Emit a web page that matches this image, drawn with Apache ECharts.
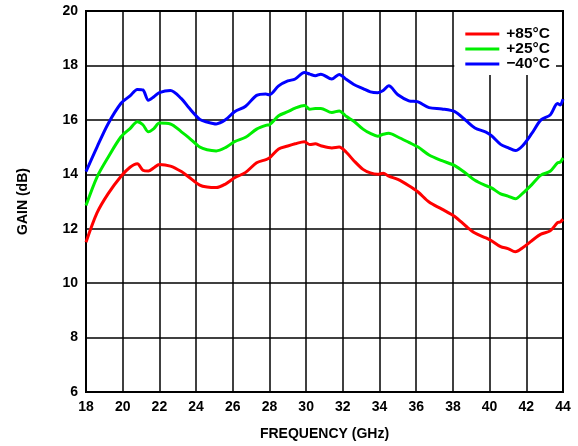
<!DOCTYPE html>
<html>
<head>
<meta charset="utf-8">
<script src="https://cdn.jsdelivr.net/npm/echarts@6/dist/echarts.min.js"></script>
<style>
  html, body { margin: 0; padding: 0; background: #fff; }
  #chart { width: 578px; height: 446px; }
</style>
</head>
<body>
<div id="chart"></div>
<script>
// Frequency sweep (GHz) shared by the three temperature traces
const freqGHz = [18.0, 18.6, 19.2, 19.9, 20.4, 20.8, 21.1, 21.4, 21.7, 22.0, 22.6, 23.2, 23.6, 24.2, 24.6, 25.1,
  25.6, 26.1, 26.7, 27.3, 27.8, 28.0, 28.5, 29.0, 29.4, 29.9, 30.2, 30.5, 30.8, 31.4, 31.8, 32.2, 32.6,
  33.1, 33.5, 33.9, 34.2, 34.5, 35.0, 35.6, 36.1, 36.7, 37.4, 38.1, 38.7, 39.2, 39.8, 40.1, 40.6, 41.0,
  41.4, 41.8, 42.3, 42.8, 43.3, 43.7, 43.85, 44.0];

// Gain (dB) at +85 °C
const gainHot = [11.5, 12.58, 13.28, 13.92, 14.26, 14.39, 14.15, 14.12, 14.24, 14.36, 14.3, 14.1, 13.9, 13.6, 13.53, 13.51,
  13.64, 13.87, 14.07, 14.42, 14.54, 14.6, 14.93, 15.04, 15.12, 15.2, 15.09, 15.12, 15.05, 14.97, 15.0, 14.8, 14.5,
  14.18, 14.05, 14.0, 14.04, 13.93, 13.81, 13.58, 13.35, 12.98, 12.72, 12.45, 12.1, 11.84, 11.66, 11.56, 11.34, 11.27,
  11.15, 11.3, 11.56, 11.8, 11.92, 12.22, 12.25, 12.35];

// Gain (dB) at +25 °C
const gainRoom = [12.85, 13.9, 14.62, 15.37, 15.68, 15.93, 15.82, 15.56, 15.68, 15.88, 15.85, 15.56, 15.35, 15.0, 14.9, 14.86,
  14.98, 15.2, 15.36, 15.66, 15.8, 15.82, 16.15, 16.3, 16.43, 16.53, 16.39, 16.42, 16.42, 16.27, 16.33, 16.12, 15.95,
  15.66, 15.5, 15.4, 15.47, 15.51, 15.37, 15.17, 15.0, 14.71, 14.5, 14.32, 14.04, 13.78, 13.58, 13.5, 13.28, 13.2,
  13.1, 13.3, 13.62, 13.97, 14.11, 14.42, 14.45, 14.6];

// Gain (dB) at −40 °C
const gainCold = [14.1, 15.0, 15.85, 16.6, 16.88, 17.12, 17.1, 16.72, 16.85, 17.0, 17.08, 16.78, 16.45, 16.02, 15.92, 15.85,
  16.0, 16.3, 16.5, 16.9, 16.95, 16.92, 17.25, 17.43, 17.5, 17.74, 17.68, 17.62, 17.68, 17.5, 17.67, 17.48, 17.3,
  17.15, 17.03, 17.0, 17.08, 17.25, 16.92, 16.7, 16.66, 16.45, 16.4, 16.3, 15.98, 15.7, 15.55, 15.42, 15.1, 14.98,
  14.87, 15.05, 15.5, 16.0, 16.18, 16.6, 16.55, 16.76];

const seriesNames = ['+85°C', '+25°C', '\u221240°C'];
const seriesColors = ['#ff0000', '#00ee00', '#0000ff'];
const seriesGains = [gainHot, gainRoom, gainCold];

const FONT = 'Liberation Sans, Arial, sans-serif';

const chart = echarts.init(document.getElementById('chart'), null, { renderer: 'canvas' });

chart.setOption({
  animation: false,
  backgroundColor: '#ffffff',
  grid: {
    left: 86, right: 15, top: 11, bottom: 52,
    show: true, borderColor: '#000', borderWidth: 2, backgroundColor: 'transparent'
  },
  legend: {
    orient: 'vertical',
    right: 22, top: 12,
    backgroundColor: '#ffffff',
    padding: [14, 6, 3, 11],
    itemGap: -1,
    itemWidth: 34,
    itemHeight: 14,
    // plain thick stroke as the key swatch
    icon: 'path://M0,0 L34,0 L34,3.2 L0,3.2 Z',
    data: seriesNames,
    textStyle: { fontFamily: FONT, fontWeight: 'bold', fontSize: 15.5, color: '#000', padding: [0, 0, 0, 2] }
  },
  xAxis: {
    type: 'value',
    min: 18, max: 44, interval: 2,
    name: 'FREQUENCY (GHz)',
    nameLocation: 'middle',
    nameGap: 35,
    nameTextStyle: { fontFamily: FONT, fontWeight: 'bold', fontSize: 14, color: '#000' },
    axisLine: { show: true, lineStyle: { color: '#000', width: 2 } },
    axisTick: { show: false },
    axisLabel: { fontFamily: FONT, fontWeight: 'bold', fontSize: 14, color: '#000', margin: 8 },
    splitLine: { show: true, lineStyle: { color: '#000', width: 1.5 } }
  },
  yAxis: {
    type: 'value',
    min: 6, max: 20, interval: 2,
    name: 'GAIN (dB)',
    nameLocation: 'middle',
    nameGap: 56,
    nameTextStyle: { fontFamily: FONT, fontWeight: 'bold', fontSize: 14, color: '#000' },
    axisLine: { show: true, lineStyle: { color: '#000', width: 2 } },
    axisTick: { show: false },
    axisLabel: { fontFamily: FONT, fontWeight: 'bold', fontSize: 14, color: '#000', margin: 8 },
    splitLine: { show: true, lineStyle: { color: '#000', width: 1.5 } }
  },
  series: seriesNames.map((name, i) => ({
    name: name,
    type: 'line',
    data: freqGHz.map((f, k) => [f, seriesGains[i][k]]),
    showSymbol: false,
    symbol: 'none',
    smooth: 0.3,
    color: seriesColors[i],
    lineStyle: { color: seriesColors[i], width: 3 },
    z: 3
  }))
});
</script>
</body>
</html>
